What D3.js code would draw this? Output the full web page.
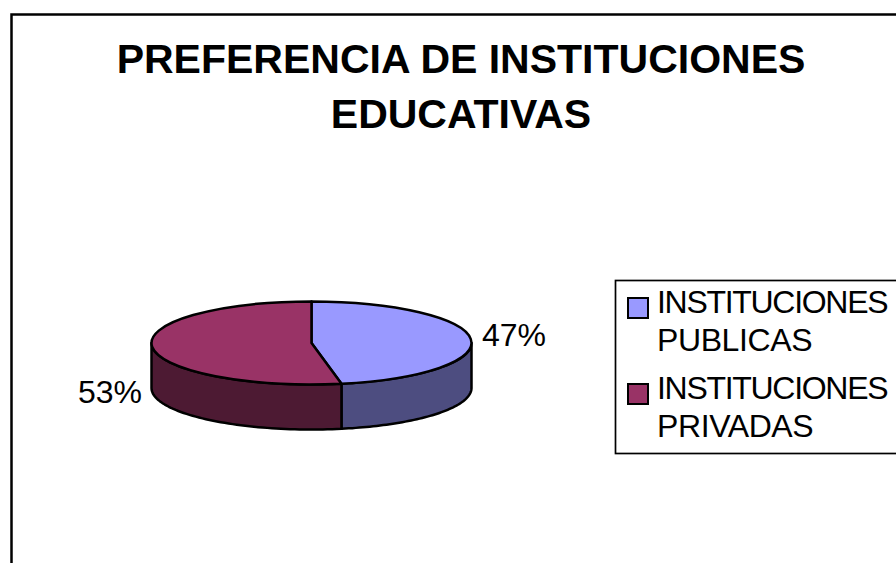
<!DOCTYPE html>
<html>
<head>
<meta charset="utf-8">
<script src="https://cdn.jsdelivr.net/npm/d3@7"></script>
<style>
  html, body { margin: 0; padding: 0; background: #fff; overflow: hidden; }
  text { font-family: "Liberation Sans", Arial, sans-serif; fill: #000; }
</style>
</head>
<body>
<script>
'use strict';

var width = 896,
    height = 563;

var titleLines = ["PREFERENCIA DE INSTITUCIONES", "EDUCATIVAS"];
var categories = ["INSTITUCIONES PUBLICAS", "INSTITUCIONES PRIVADAS"];
var values = [47, 53];
var topColors = ["#9999ff", "#993366"];
var sideColors = ["#4d4d80", "#4d1a33"];

var cx = 311.5, cy = 343, rx = 160, ry = 41.5, depth = 45;

var svg = d3.select("body").append("svg")
  .attr("width", width)
  .attr("height", height)
  .style("display", "block");

// Outer frame, cropped by the window on the right and bottom
svg.append("path")
  .attr("d", "M11.5,563V14.5H896")
  .attr("fill", "none")
  .attr("stroke", "#000")
  .attr("stroke-width", 2.5);

svg.selectAll("text.title")
  .data(titleLines)
  .enter().append("text")
  .attr("class", "title")
  .attr("x", 461)
  .attr("y", function(d, i) { return 73 + i * 55; })
  .attr("text-anchor", "middle")
  .attr("font-size", 41)
  .attr("font-weight", "bold")
  .text(function(d) { return d; });

var slices = d3.pie().sort(null)(values);

var px = function(a) { return cx + rx * Math.sin(a); };
var py = function(a) { return cy - ry * Math.cos(a); };

// Side walls: only the front half of the disc shows
var wall = d3.area()
  .x(px)
  .y0(py)
  .y1(function(a) { return py(a) + depth; });

svg.selectAll("path.wall")
  .data(slices)
  .enter().append("path")
  .attr("class", "wall")
  .attr("fill", function(d, i) { return sideColors[i]; })
  .attr("stroke", "#000")
  .attr("stroke-width", 2.5)
  .attr("stroke-linejoin", "round")
  .attr("d", function(d) {
    var a0 = Math.max(d.startAngle, Math.PI / 2),
        a1 = Math.min(d.endAngle, Math.PI * 1.5),
        steps = d3.range(0, 61).map(function(k) { return a0 + (a1 - a0) * k / 60; });
    return wall(steps);
  });

// Top face: circular arcs flattened into an ellipse
var arc = d3.arc().innerRadius(0).outerRadius(rx);

svg.append("g")
  .attr("transform", "translate(" + cx + "," + cy + ") scale(1," + (ry / rx) + ")")
  .selectAll("path")
  .data(slices)
  .enter().append("path")
  .attr("d", arc)
  .attr("fill", function(d, i) { return topColors[i]; })
  .attr("stroke", "#000")
  .attr("stroke-width", 2.5)
  .attr("stroke-linejoin", "round")
  .attr("vector-effect", "non-scaling-stroke");

// Percent labels
var labelPos = [[482, 346], [78, 403]];
svg.selectAll("text.pct")
  .data(values)
  .enter().append("text")
  .attr("class", "pct")
  .attr("x", function(d, i) { return labelPos[i][0]; })
  .attr("y", function(d, i) { return labelPos[i][1]; })
  .attr("font-size", 32)
  .text(function(d) { return d + "%"; });

// Legend
svg.append("rect")
  .attr("x", 615.5)
  .attr("y", 280.5)
  .attr("width", 300)
  .attr("height", 173)
  .attr("fill", "#fff")
  .attr("stroke", "#000")
  .attr("stroke-width", 1.7);

var legend = svg.selectAll("g.legend")
  .data(categories)
  .enter().append("g")
  .attr("class", "legend")
  .attr("transform", function(d, i) { return "translate(0," + (i * 86) + ")"; });

legend.append("rect")
  .attr("x", 628)
  .attr("y", 298)
  .attr("width", 20)
  .attr("height", 20)
  .attr("fill", function(d, i) { return topColors[i]; })
  .attr("stroke", "#000")
  .attr("stroke-width", 2);

legend.selectAll("text")
  .data(function(d) { return d.split(" "); })
  .enter().append("text")
  .attr("x", 657)
  .attr("y", function(d, i) { return 313 + i * 38; })
  .attr("font-size", 32)
  .attr("letter-spacing", function(d, i) { return i === 0 ? -1.3 : -0.4; })
  .text(function(d) { return d; });
</script>
</body>
</html>
